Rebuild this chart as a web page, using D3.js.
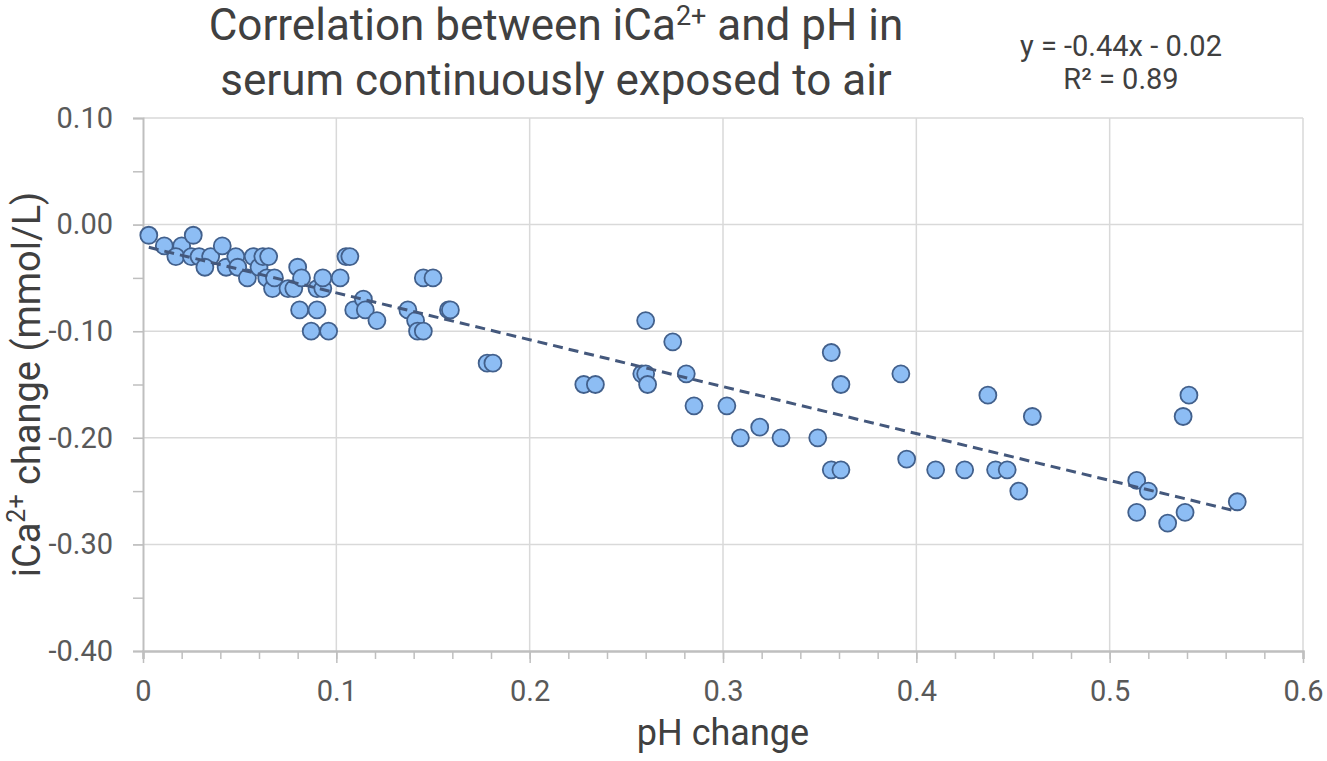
<!DOCTYPE html>
<html>
<head>
<meta charset="utf-8">
<script src="https://cdn.jsdelivr.net/npm/d3@7"></script>
<style>
  body { margin: 0; background: #fff; }
  text { font-family: Roboto, "Open Sans", sans-serif; }
</style>
</head>
<body>
<svg id="chart"></svg>
<script>
// pH change (x) and iCa2+ change (y)
const phChange = [
  0.003, 0.011, 0.020, 0.026, 0.017, 0.025, 0.029, 0.035, 0.032, 0.041,
  0.043, 0.048, 0.049, 0.054, 0.057, 0.060, 0.062, 0.065, 0.064, 0.067,
  0.068, 0.075, 0.078, 0.080, 0.082, 0.081, 0.090, 0.093, 0.093, 0.090,
  0.087, 0.096, 0.102, 0.105, 0.107, 0.109, 0.114, 0.115, 0.121, 0.145,
  0.150, 0.137, 0.141, 0.142, 0.145, 0.158, 0.159, 0.178, 0.181, 0.228,
  0.234, 0.260, 0.274, 0.258, 0.260, 0.261, 0.281, 0.285, 0.302, 0.309,
  0.319, 0.330, 0.349, 0.356, 0.361, 0.356, 0.361, 0.392, 0.395, 0.410,
  0.425, 0.437, 0.441, 0.447, 0.453, 0.460, 0.541, 0.538, 0.514, 0.520,
  0.514, 0.530, 0.539, 0.566
];
const icaChange = [
  -0.01, -0.02, -0.02, -0.01, -0.03, -0.03, -0.03, -0.03, -0.04, -0.02,
  -0.04, -0.03, -0.04, -0.05, -0.03, -0.04, -0.03, -0.03, -0.05, -0.06,
  -0.05, -0.06, -0.06, -0.04, -0.05, -0.08, -0.06, -0.06, -0.05, -0.08,
  -0.10, -0.10, -0.05, -0.03, -0.03, -0.08, -0.07, -0.08, -0.09, -0.05,
  -0.05, -0.08, -0.09, -0.10, -0.10, -0.08, -0.08, -0.13, -0.13, -0.15,
  -0.15, -0.09, -0.11, -0.14, -0.14, -0.15, -0.14, -0.17, -0.17, -0.20,
  -0.19, -0.20, -0.20, -0.12, -0.15, -0.23, -0.23, -0.14, -0.22, -0.23,
  -0.23, -0.16, -0.23, -0.23, -0.25, -0.18, -0.16, -0.18, -0.24, -0.25,
  -0.27, -0.28, -0.27, -0.26
];
const xTicks = [0, 0.1, 0.2, 0.3, 0.4, 0.5, 0.6];
const yTicks = [0.10, 0.00, -0.10, -0.20, -0.30, -0.40];
const slope = -0.44, intercept = -0.02;

const width = 1327, height = 761;
const margin = {top: 118, right: 24, bottom: 110, left: 143};

const svg = d3.select("#chart").attr("width", width).attr("height", height);

const x = d3.scaleLinear().domain([0, 0.6]).range([margin.left, width - margin.right]);
const y = d3.scaleLinear().domain([-0.40, 0.10]).range([height - margin.bottom, margin.top]);

// gridlines
svg.append("g")
    .selectAll("line.vg")
    .data(xTicks.slice(1))
    .enter().append("line")
    .attr("x1", d => x(d)).attr("x2", d => x(d))
    .attr("y1", y(0.10)).attr("y2", y(-0.40))
    .attr("stroke", "#d9d9d9").attr("stroke-width", 1.5);

svg.append("g")
    .selectAll("line.hg")
    .data(yTicks.slice(0, -1))
    .enter().append("line")
    .attr("x1", x(0)).attr("x2", x(0.6))
    .attr("y1", d => y(d)).attr("y2", d => y(d))
    .attr("stroke", "#d9d9d9").attr("stroke-width", 1.5);

// x axis with minor ticks
const xAxis = svg.append("g")
    .attr("transform", `translate(0,${y(-0.40)})`)
    .call(d3.axisBottom(x).tickValues(d3.range(0, 0.6001, 0.02)).tickSize(8).tickFormat(""));
xAxis.select(".domain").attr("stroke", "#bfbfbf").attr("stroke-width", 2.5);
xAxis.selectAll(".tick line").attr("stroke", "#bfbfbf").attr("stroke-width", 1.5);

const xMajor = svg.append("g")
    .attr("transform", `translate(0,${y(-0.40)})`)
    .call(d3.axisBottom(x).tickValues(xTicks).tickSize(12).tickPadding(17).tickFormat(d => d === 0 ? "0" : d3.format(".1f")(d)));
xMajor.select(".domain").remove();
xMajor.selectAll(".tick line").attr("stroke", "#bfbfbf").attr("stroke-width", 1.5);
xMajor.selectAll("text").attr("font-size", 29).attr("fill", "#595959")
    .style("font-family", "Roboto, sans-serif");

// y axis with minor ticks
const yAxis = svg.append("g")
    .attr("transform", `translate(${x(0)},0)`)
    .call(d3.axisLeft(y).tickValues(d3.range(-0.40, 0.1001, 0.05)).tickSize(10).tickFormat(""));
yAxis.select(".domain").attr("stroke", "#bfbfbf").attr("stroke-width", 2);
yAxis.selectAll(".tick line").attr("stroke", "#bfbfbf").attr("stroke-width", 1.5);

const yMajor = svg.append("g")
    .attr("transform", `translate(${x(0)},0)`)
    .call(d3.axisLeft(y).tickValues(yTicks).tickSize(10).tickPadding(20).tickFormat(d3.format(".2f")));
yMajor.select(".domain").remove();
yMajor.selectAll(".tick line").attr("stroke", "#bfbfbf");
yMajor.selectAll("text").attr("font-size", 29).attr("fill", "#595959")
    .style("font-family", "Roboto, sans-serif")
    .text(d => d3.format(".2f")(d).replace("−", "-"));

// points
const pts = phChange.map((v, i) => ({ph: v, ica: icaChange[i]}));
svg.append("g")
    .selectAll("circle")
    .data(pts)
    .enter().append("circle")
    .attr("cx", d => x(d.ph))
    .attr("cy", d => y(d.ica))
    .attr("r", 8.5)
    .attr("fill", "#8dbdf4")
    .attr("stroke", "#42608c")
    .attr("stroke-width", 1.8);

// trend line
const xMin = d3.min(phChange), xMax = d3.max(phChange);
svg.append("line")
    .attr("x1", x(xMin)).attr("y1", y(slope * xMin + intercept))
    .attr("x2", x(xMax)).attr("y2", y(slope * xMax + intercept))
    .attr("stroke", "#44587c")
    .attr("stroke-width", 3)
    .attr("stroke-dasharray", "10 6");

// title
const title = svg.append("text")
    .attr("text-anchor", "middle")
    .attr("font-size", 44)
    .attr("fill", "#404040");
const t1 = title.append("tspan").attr("x", 556).attr("y", 40);
t1.append("tspan").text("Correlation between iCa");
t1.append("tspan").attr("font-size", 27).attr("dy", -15).text("2+");
t1.append("tspan").attr("dy", 15).text(" and pH in");
title.append("tspan").attr("x", 556).attr("y", 95).text("serum continuously exposed to air");

// equation
svg.append("text")
    .attr("x", 1121).attr("y", 56)
    .attr("text-anchor", "middle").attr("font-size", 29).attr("fill", "#404040")
    .text("y = -0.44x - 0.02");
svg.append("text")
    .attr("x", 1121).attr("y", 89)
    .attr("text-anchor", "middle").attr("font-size", 29).attr("fill", "#404040")
    .text("R² = 0.89");

// axis titles
svg.append("text")
    .attr("x", (x(0) + x(0.6)) / 2).attr("y", 745)
    .attr("text-anchor", "middle").attr("font-size", 36).attr("fill", "#404040")
    .text("pH change");

const yTitle = svg.append("text")
    .attr("transform", `translate(40,${(y(0.10) + y(-0.40)) / 2}) rotate(-90)`)
    .attr("text-anchor", "middle").attr("font-size", 38).attr("fill", "#404040");
yTitle.append("tspan").text("iCa");
yTitle.append("tspan").attr("font-size", 25).attr("dy", -15).text("2+");
yTitle.append("tspan").attr("dy", 15).text(" change (mmol/L)");
</script>
</body>
</html>
